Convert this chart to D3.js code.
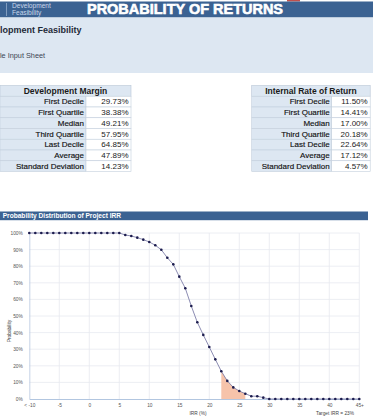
<!DOCTYPE html>
<html><head><meta charset="utf-8">
<script src="https://cdn.jsdelivr.net/npm/d3@7"></script>
<style>
html,body{margin:0;padding:0;background:#fff;}
svg{display:block;font-family:"Liberation Sans",Arial,sans-serif;}
</style></head>
<body><svg id="c" width="375" height="419"></svg>
<script>
// ---- data ----
const pageTitle = "PROBABILITY OF RETURNS";
const brandLines = ["Development", "Feasibility"];
const subTitle = "lopment Feasibility";
const subNote = "le Input Sheet";

const statLabels = ["First Decile","First Quartile","Median","Third Quartile","Last Decile","Average","Standard Deviation"];
const marginTitle = "Development Margin";
const marginValues = ["29.73%","38.38%","49.21%","57.95%","64.85%","47.89%","14.23%"];
const irrTitle = "Internal Rate of Return";
const irrValues = ["11.50%","14.41%","17.00%","20.18%","22.64%","17.12%","4.57%"];

const chartTitle = "Probability Distribution of Project IRR";
const irrCategories = [-10,-9,-8,-7,-6,-5,-4,-3,-2,-1,0,1,2,3,4,5,6,7,8,9,10,11,12,13,14,15,16,17,18,19,20,21,22,23,24,25,26,27,28,29,30,31,32,33,34,35,36,37,38,39,40,41,42,43,44,45];
const probability = [100,100,100,100,100,100,100,100,100,100,100,100,100,100,100,100,
  98.8,98.2,97.2,96.0,94.6,92.6,89.9,85.1,81.1,73.7,66.7,56.0,46.2,38.6,31.3,23.9,
  16.7,10.9,7.0,4.8,3.2,1.7,1.7,0.8,
  0,0,0,0,0,0,0,0,0,0,0,0,0,0,0,0];
const xTickValues = [-10,-5,0,5,10,15,20,25,30,35,40,45];
const xTickLabels = ["< -10","-5","0","5","10","15","20","25","30","35","40","45+"];
const yTickValues = [0,10,20,30,40,50,60,70,80,90,100];
const shadeFrom = 22, shadeTo = 26;
const xTitle = "IRR (%)";
const yTitle = "Probability";
const targetNote = "Target IRR = 23%";

// ---- drawing ----
const svg = d3.select("#c");
const blue = "#3b6292";
const pale = "#dde7f2";

// top strip remnants
svg.append("rect").attr("x",287).attr("y",0).attr("width",13).attr("height",1.5).attr("fill","#c0504d");
// header band
svg.append("rect").attr("x",0).attr("y",1.5).attr("width",373).attr("height",16).attr("fill",blue);
svg.append("line").attr("x1",6.5).attr("x2",6.5).attr("y1",3).attr("y2",16).attr("stroke","#9fb6d3").attr("stroke-width",0.7);
svg.append("g").selectAll("text").data(brandLines).join("text")
  .attr("x",12).attr("y",(d,i)=>8+i*6.8).attr("font-size",6.6).attr("fill","#c9d7ea").text(d=>d);
svg.append("text").attr("x",87).attr("y",13.6).attr("font-size",14.5).attr("font-weight","bold")
  .attr("fill","#fff").attr("stroke","#fff").attr("stroke-width",0.6)
  .attr("textLength",196).attr("lengthAdjust","spacingAndGlyphs").text(pageTitle);

// pale band
svg.append("rect").attr("x",0).attr("y",17.5).attr("width",373).attr("height",55.5).attr("fill",pale);
svg.append("text").attr("x",0).attr("y",33).attr("font-size",9).attr("font-weight","bold").attr("fill","#1f2a38").text(subTitle);
svg.append("text").attr("x",0).attr("y",58).attr("font-size",7.3).attr("fill","#3c4652").text(subNote);

// tables
function drawTable(x0, labW, valW, title, values){
  const top = 85.5, rh = 10.75;
  const g = svg.append("g");
  g.append("rect").attr("x",x0).attr("y",top).attr("width",labW+valW).attr("height",rh)
    .attr("fill",pale).attr("stroke","#b9c6d6").attr("stroke-width",0.6);
  g.append("text").attr("x",x0+(labW+valW)/2).attr("y",top+rh/2).attr("dy","0.35em")
    .attr("text-anchor","middle").attr("font-size",8.5).attr("font-weight","bold").attr("fill","#1a1a1a").text(title);
  const rows = g.selectAll("g.r").data(statLabels).join("g").attr("class","r")
    .attr("transform",(d,i)=>`translate(0,${top+rh*(i+1)})`);
  rows.append("rect").attr("x",x0).attr("width",labW).attr("height",rh)
    .attr("fill",pale).attr("stroke","#c4cfdc").attr("stroke-width",0.6);
  rows.append("rect").attr("x",x0+labW).attr("width",valW).attr("height",rh)
    .attr("fill","#fff").attr("stroke","#c4cfdc").attr("stroke-width",0.6);
  rows.append("text").attr("x",x0+labW-2).attr("y",rh/2).attr("dy","0.35em").attr("text-anchor","end")
    .attr("font-size",8).attr("fill","#111").attr("stroke","#111").attr("stroke-width",0.15).text(d=>d);
  rows.append("text").attr("x",x0+labW+valW-2.5).attr("y",rh/2).attr("dy","0.35em").attr("text-anchor","end")
    .attr("font-size",8).attr("fill","#1a1a1a").text((d,i)=>values[i]);
}
drawTable(0, 86, 45, marginTitle, marginValues);
drawTable(251.7, 80, 38.5, irrTitle, irrValues);

// chart title bar
svg.append("rect").attr("x",0).attr("y",211.5).attr("width",368).attr("height",8.7).attr("fill",blue);
svg.append("text").attr("x",2.7).attr("y",216).attr("dy","0.35em").attr("font-size",6.6)
  .attr("font-weight","bold").attr("fill","#fff").text(chartTitle);

// chart
const x = d3.scalePoint().domain(irrCategories).range([29.3, 359.3]);
const y = d3.scaleLinear().domain([0,100]).range([399, 233]);

const grid = svg.append("g");
grid.selectAll("line.h").data(yTickValues.filter(v=>v>0)).join("line").attr("class","h")
  .attr("x1",x(-10)).attr("x2",x(45)).attr("y1",d=>y(d)).attr("y2",d=>y(d))
  .attr("stroke","#e7eaf0").attr("stroke-width",0.8);
grid.selectAll("line.v").data(xTickValues.filter(v=>v>-10)).join("line").attr("class","v")
  .attr("x1",d=>x(d)).attr("x2",d=>x(d)).attr("y1",y(100)).attr("y2",y(0))
  .attr("stroke","#e7eaf0").attr("stroke-width",0.8);

// shaded area
const pts = irrCategories.map((c,i)=>({c, v: probability[i]}));
const shadePts = pts.filter(p=>p.c>=shadeFrom && p.c<=shadeTo);
svg.append("path").datum(shadePts)
  .attr("d", d3.area().x(d=>x(d.c)).y0(y(0)).y1(d=>y(d.v)))
  .attr("fill","#f6c3aa");

// axes
const yAxis = svg.append("g").attr("transform",`translate(${x(-10)},0)`)
  .call(d3.axisLeft(y).tickValues(yTickValues).tickFormat(d=>d+"%").tickSize(0).tickPadding(6.5));
yAxis.select(".domain").attr("stroke","#b8c8df").attr("stroke-width",0.8);
yAxis.selectAll("text").attr("font-size",4.8).attr("fill","#555").attr("font-family","Liberation Sans, Arial, sans-serif");

const xAxis = svg.append("g").attr("transform",`translate(0,${y(0)})`)
  .call(d3.axisBottom(x).tickValues(xTickValues).tickFormat((d,i)=>xTickLabels[i]).tickSize(0).tickPadding(4.5));
xAxis.select(".domain").attr("stroke","#a9bfdc").attr("stroke-width",0.9);
xAxis.selectAll("text").attr("font-size",4.8).attr("fill","#555").attr("font-family","Liberation Sans, Arial, sans-serif");

// line + dots
svg.append("path").datum(pts)
  .attr("d", d3.line().x(d=>x(d.c)).y(d=>y(d.v)))
  .attr("fill","none").attr("stroke","#6e6e9e").attr("stroke-width",0.8);
svg.append("g").selectAll("circle").data(pts).join("circle")
  .attr("cx",d=>x(d.c)).attr("cy",d=>y(d.v)).attr("r",1.3).attr("fill","#1c1c4e");

// axis titles
svg.append("text").attr("transform","translate(10.5,331) rotate(-90)").attr("text-anchor","middle")
  .attr("font-size",4.8).attr("fill","#444").text(yTitle);
svg.append("text").attr("x",198).attr("y",415).attr("text-anchor","middle")
  .attr("font-size",4.8).attr("fill","#444").text(xTitle);
svg.append("text").attr("x",335).attr("y",415).attr("text-anchor","middle")
  .attr("font-size",4.8).attr("fill","#444").text(targetNote);
</script></body></html>
